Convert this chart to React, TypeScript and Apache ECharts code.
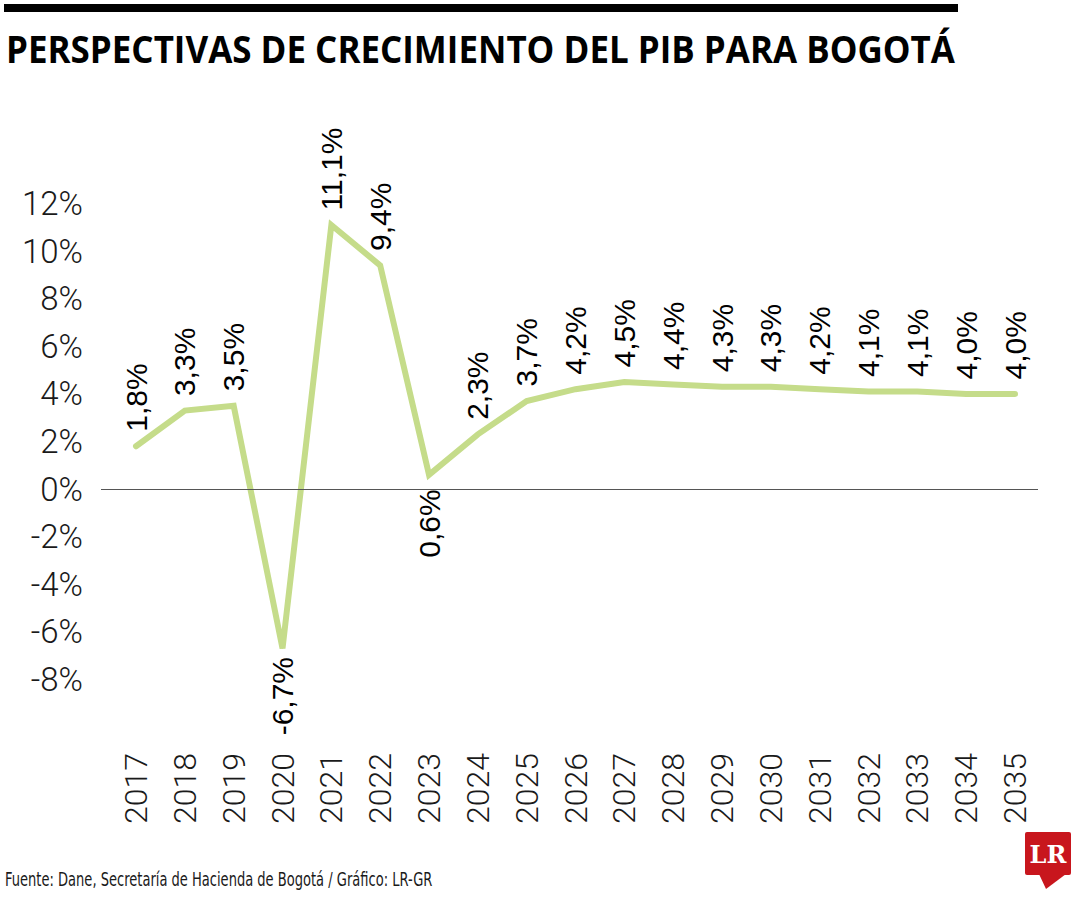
import React, { useEffect, useRef } from "react";
import * as echarts from "echarts";

const years = ["2017","2018","2019","2020","2021","2022","2023","2024","2025","2026","2027","2028","2029","2030","2031","2032","2033","2034","2035"];
const growth = [1.8, 3.3, 3.5, -6.7, 11.1, 9.4, 0.6, 2.3, 3.7, 4.2, 4.5, 4.4, 4.3, 4.3, 4.2, 4.1, 4.1, 4.0, 4.0];
const labelsBelow = ["2020", "2023"];
const yTicks = [-8, -6, -4, -2, 0, 2, 4, 6, 8, 10, 12];

const TITLE = "PERSPECTIVAS DE CRECIMIENTO DEL PIB PARA BOGOTÁ";
const SOURCE = "Fuente: Dane, Secretaría de Hacienda de Bogotá / Gráfico: LR-GR";

const LIGHT = 'Roboto, "Noto Sans", sans-serif';
const SANS = '"Liberation Sans", Arial, sans-serif';
const LINE_COLOR = "#c5dc8a";

export default function App() {
  const ref = useRef<HTMLDivElement>(null);
  useEffect(() => {
    if (!ref.current) return;
    const chart = echarts.init(ref.current, null, { renderer: "svg" });
    const fmt = (v: number) => v.toFixed(1).replace(".", ",") + "%";
    const data = years.map((y, i) => {
      const below = labelsBelow.includes(y);
      return {
        value: [Number(y), growth[i]],
        label: below
          ? { show: true, position: "bottom", align: "right", verticalAlign: "middle", distance: y === "2023" ? 14 : 8 }
          : { show: true, position: "top", align: "left", verticalAlign: "middle", distance: 14 },
      };
    });
    chart.setOption({
      animation: false,
      backgroundColor: "#ffffff",
      grid: { left: 101, right: 42, top: 156, bottom: 173 },
      xAxis: {
        type: "value",
        min: 2016.283,
        max: 2035.47,
        axisLine: { show: false },
        axisTick: { show: false },
        splitLine: { show: false },
        axisLabel: {
          customValues: years.map(Number),
          formatter: (v: number) => String(v),
          rotate: 90,
          margin: 26,
          fontFamily: LIGHT,
          fontWeight: 300,
          fontSize: 32,
          color: "#1a1a1a",
        },
      },
      yAxis: {
        type: "value",
        min: -10,
        max: 14,
        interval: 2,
        axisLine: { show: false },
        axisTick: { show: false },
        splitLine: { show: false },
        axisLabel: {
          customValues: yTicks,
          formatter: (v: number) => v + "%",
          margin: 18,
          fontFamily: LIGHT,
          fontWeight: 300,
          fontSize: 33,
          color: "#1a1a1a",
        },
      },
      series: [
        {
          type: "line",
          data,
          symbol: "circle",
          symbolSize: 1,
          showSymbol: true,
          itemStyle: { color: LINE_COLOR },
          lineStyle: { color: LINE_COLOR, width: 6, cap: "round", join: "miter" },
          label: {
            show: true,
            rotate: 90,
            formatter: (p: any) => fmt(p.value[1]),
            fontFamily: SANS,
            fontSize: 30,
            color: "#000",
          },
          markLine: {
            silent: true,
            symbol: ["none", "none"],
            label: { show: false },
            lineStyle: { color: "#555", width: 1.2, type: "solid" },
            data: [{ yAxis: 0 }],
          },
        },
      ],
      graphic: [
        { type: "rect", shape: { x: 4, y: 4, width: 954, height: 8 }, style: { fill: "#000" } },
        {
          type: "text",
          x: 6,
          y: 48,
          scaleX: 0.92,
          style: {
            text: TITLE,
            fontFamily: '"Open Sans", "Noto Sans", sans-serif',
            fontWeight: 700,
            fontSize: 38,
            fill: "#000",
            verticalAlign: "middle",
          },
        },
        {
          type: "text",
          x: 5,
          y: 880,
          scaleX: 0.67,
          style: {
            text: SOURCE,
            fontFamily: '"DejaVu Sans", sans-serif',
            fontSize: 19.5,
            fill: "#1a1a1a",
            verticalAlign: "middle",
          },
        },
        { type: "rect", shape: { x: 1025, y: 832, width: 46, height: 43, r: 2 }, style: { fill: "#c8161d" } },
        { type: "polygon", shape: { points: [[1039, 874], [1066, 874], [1046, 889]] }, style: { fill: "#c8161d" } },
        {
          type: "text",
          x: 1048,
          y: 854,
          style: {
            text: "LR",
            fontFamily: '"DejaVu Serif", "Liberation Serif", serif',
            fontWeight: 700,
            fontSize: 24,
            fill: "#fff",
            align: "center",
            verticalAlign: "middle",
          },
        },
      ],
    });
    return () => chart.dispose();
  }, []);
  return <div ref={ref} style={{ position: "absolute", left: 0, top: 0, width: 1080, height: 900 }} />;
}
